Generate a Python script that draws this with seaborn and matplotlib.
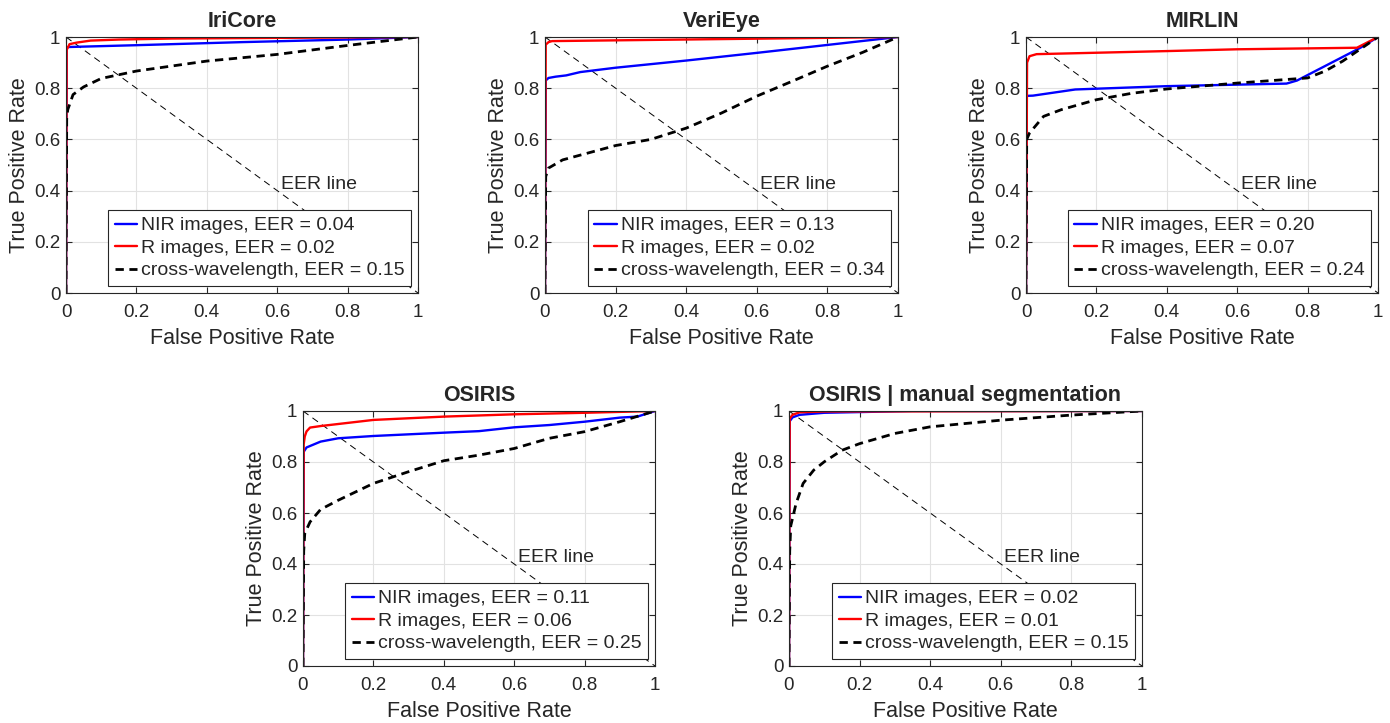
import pandas as pd
import matplotlib
matplotlib.use("Agg")
import matplotlib.pyplot as plt
import seaborn as sns
from matplotlib.ticker import FuncFormatter

sns.set_style("whitegrid")
plt.rcParams['font.family'] = ['Liberation Sans', 'DejaVu Sans']

# ---- IriCore
iricore_nir_fpr = [0, 0.002, 0.01, 0.2, 0.5, 0.8, 1]
iricore_nir_tpr = [0, 0.96, 0.961, 0.968, 0.98, 0.99, 1]
iricore_r_fpr = [0, 0.002, 0.01, 0.03, 0.07, 0.15, 0.3, 1]
iricore_r_tpr = [0, 0.95, 0.972, 0.978, 0.986, 0.99, 0.994, 1]
iricore_x_fpr = [0, 0.002, 0.005, 0.02, 0.05, 0.1, 0.2, 0.4, 0.6, 0.8, 1]
iricore_x_tpr = [0, 0.68, 0.716, 0.775, 0.805, 0.838, 0.867, 0.906, 0.932, 0.967, 1]

# ---- VeriEye
verieye_nir_fpr = [0, 0.002, 0.01, 0.03, 0.06, 0.1, 0.2, 0.4, 0.6, 0.8, 1]
verieye_nir_tpr = [0, 0.83, 0.84, 0.845, 0.85, 0.863, 0.88, 0.908, 0.938, 0.969, 1]
verieye_r_fpr = [0, 0.002, 0.01, 0.02, 1]
verieye_r_tpr = [0, 0.97, 0.98, 0.984, 1]
verieye_x_fpr = [0, 0.002, 0.01, 0.05, 0.2, 0.3, 0.4, 0.5, 0.6, 0.7, 0.8, 0.9, 1]
verieye_x_tpr = [0, 0.455, 0.488, 0.52, 0.576, 0.60, 0.644, 0.703, 0.769, 0.827, 0.886, 0.94, 1]

# ---- MIRLIN
mirlin_nir_fpr = [0, 0.002, 0.02, 0.14, 0.4, 0.74, 0.77, 0.95, 1]
mirlin_nir_tpr = [0, 0.77, 0.771, 0.795, 0.808, 0.818, 0.83, 0.958, 1]
mirlin_r_fpr = [0, 0.003, 0.01, 0.03, 0.4, 0.6, 0.94, 1]
mirlin_r_tpr = [0, 0.9, 0.925, 0.933, 0.945, 0.952, 0.958, 1]
mirlin_x_fpr = [0, 0.002, 0.01, 0.05, 0.1, 0.2, 0.3, 0.4, 0.6, 0.8, 0.85, 0.9, 1]
mirlin_x_tpr = [0, 0.6, 0.625, 0.69, 0.716, 0.755, 0.78, 0.797, 0.82, 0.84, 0.867, 0.906, 1]

# ---- OSIRIS
osiris_nir_fpr = [0, 0.002, 0.01, 0.05, 0.1, 0.2, 0.4, 0.5, 0.6, 0.7, 0.8, 0.9, 0.95, 1]
osiris_nir_tpr = [0, 0.84, 0.857, 0.88, 0.893, 0.902, 0.915, 0.921, 0.936, 0.945, 0.958, 0.974, 0.978, 1]
osiris_r_fpr = [0, 0.002, 0.005, 0.01, 0.02, 0.05, 0.2, 0.4, 0.6, 0.8, 1]
osiris_r_tpr = [0, 0.87, 0.9, 0.92, 0.935, 0.941, 0.965, 0.978, 0.987, 0.993, 1]
osiris_x_fpr = [0, 0.002, 0.005, 0.02, 0.05, 0.1, 0.2, 0.3, 0.4, 0.5, 0.6, 0.7, 0.8, 0.9, 1]
osiris_x_tpr = [0, 0.45, 0.52, 0.565, 0.614, 0.65, 0.716, 0.762, 0.805, 0.827, 0.853, 0.893, 0.919, 0.958, 1]

# ---- OSIRIS | manual segmentation
manual_nir_fpr = [0, 0.002, 0.01, 0.03, 0.1, 0.35, 1]
manual_nir_tpr = [0, 0.96, 0.975, 0.985, 0.993, 1, 1]
manual_r_fpr = [0, 0.002, 0.01, 0.03, 0.1, 1]
manual_r_tpr = [0, 0.97, 0.985, 0.995, 0.998, 1]
manual_x_fpr = [0, 0.002, 0.005, 0.02, 0.04, 0.07, 0.1, 0.15, 0.2, 0.3, 0.4, 0.6, 0.8, 1]
manual_x_tpr = [0, 0.45, 0.55, 0.637, 0.716, 0.768, 0.801, 0.846, 0.872, 0.912, 0.938, 0.964, 0.984, 1]

titles = ['IriCore', 'VeriEye', 'MIRLIN', 'OSIRIS', 'OSIRIS | manual segmentation']
eer_nir = [0.04, 0.13, 0.20, 0.11, 0.02]
eer_r = [0.02, 0.02, 0.07, 0.06, 0.01]
eer_cross = [0.15, 0.34, 0.24, 0.25, 0.15]

nir_curves = [(iricore_nir_fpr, iricore_nir_tpr), (verieye_nir_fpr, verieye_nir_tpr),
              (mirlin_nir_fpr, mirlin_nir_tpr), (osiris_nir_fpr, osiris_nir_tpr),
              (manual_nir_fpr, manual_nir_tpr)]
r_curves = [(iricore_r_fpr, iricore_r_tpr), (verieye_r_fpr, verieye_r_tpr),
            (mirlin_r_fpr, mirlin_r_tpr), (osiris_r_fpr, osiris_r_tpr),
            (manual_r_fpr, manual_r_tpr)]
cross_curves = [(iricore_x_fpr, iricore_x_tpr), (verieye_x_fpr, verieye_x_tpr),
                (mirlin_x_fpr, mirlin_x_tpr), (osiris_x_fpr, osiris_x_tpr),
                (manual_x_fpr, manual_x_tpr)]

eer_line_x = [0, 1]
eer_line_y = [1, 0]
ticks = [0, 0.2, 0.4, 0.6, 0.8, 1]

W, H = 1390, 723
# axes boxes in pixels: left, top, right, bottom
boxes = [(66, 37, 418, 293), (545, 37, 898, 293), (1026, 37, 1378, 293),
         (303, 411, 655, 666), (789, 411, 1142, 666)]

fig = plt.figure(figsize=(W / 100, H / 100), dpi=100)
dark = '#262626'

for i in range(5):
    l, t, r, b = boxes[i]
    ax = fig.add_axes([l / W, 1 - b / H, (r - l) / W, (b - t) / H])

    ax.plot(eer_line_x, eer_line_y, color='k', lw=0.7, ls=(0, (7, 5)), zorder=2)
    ax.text(0.61, 0.425, 'EER line', fontsize=14, color=dark, va='center', ha='left')

    sns.lineplot(x=nir_curves[i][0], y=nir_curves[i][1], color='#0000ff', lw=1.7,
                 sort=False, estimator=None, ax=ax, label=f'NIR images, EER = {eer_nir[i]:.2f}')
    sns.lineplot(x=r_curves[i][0], y=r_curves[i][1], color='#ff0000', lw=1.7,
                 sort=False, estimator=None, ax=ax, label=f'R images, EER = {eer_r[i]:.2f}')
    sns.lineplot(x=cross_curves[i][0], y=cross_curves[i][1], color='k', lw=2.0,
                 linestyle=(0, (3, 2)), sort=False, estimator=None, ax=ax,
                 label=f'cross-wavelength, EER = {eer_cross[i]:.2f}')

    ax.set_xlim(0, 1)
    ax.set_ylim(0, 1)
    ax.set_xticks(ticks)
    ax.set_yticks(ticks)
    fmt = FuncFormatter(lambda v, _: f'{v:g}')
    ax.xaxis.set_major_formatter(fmt)
    ax.yaxis.set_major_formatter(fmt)
    ax.tick_params(direction='in', length=4, width=0.8, color=dark, labelsize=13.5,
                   labelcolor=dark, bottom=True, left=True, top=True, right=True, pad=4)
    ax.tick_params(axis='x', pad=8)
    ax.grid(True, color='#e2e2e2', lw=0.8)
    for s in ax.spines.values():
        s.set_color(dark)
        s.set_linewidth(0.8)
    ax.set_xlabel('False Positive Rate', fontsize=15.5, color=dark, labelpad=5)
    ax.set_ylabel('True Positive Rate', fontsize=15.5, color=dark, labelpad=3)
    ax.set_title(titles[i], fontsize=15.5, fontweight='bold', pad=7)

    leg = ax.legend(loc='lower right', fontsize=14, frameon=True, fancybox=False,
                    framealpha=1, edgecolor=dark, handlelength=1.15, handletextpad=0.2,
                    labelspacing=0.25, borderpad=0.35, borderaxespad=0.35)
    leg.get_frame().set_linewidth(0.8)

fig.savefig('out.png', dpi=100)
